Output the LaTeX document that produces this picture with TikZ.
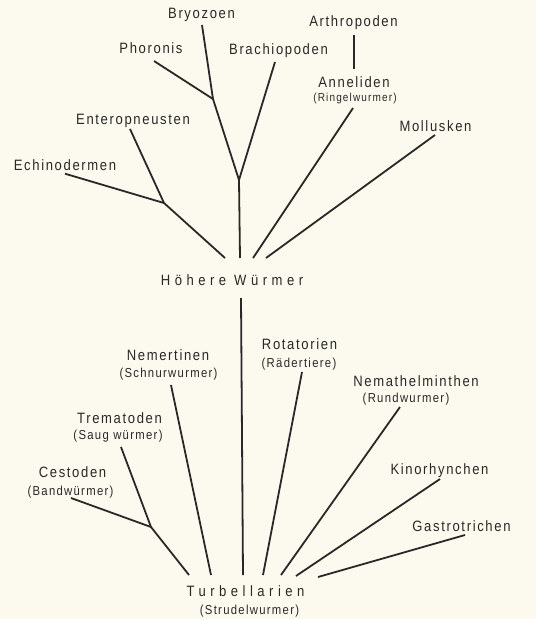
\documentclass[tikz,border=0pt]{standalone}
\usepackage{fontspec}
\setmainfont{Liberation Sans}
\newfontfamily\labf{Liberation Sans}[FakeStretch=0.87,LetterSpace=11]
\newfontfamily\subf{Liberation Sans}[FakeStretch=0.87,LetterSpace=10]
\newfontfamily\bigf{Liberation Sans}[FakeStretch=0.87,LetterSpace=30]
\definecolor{bg}{RGB}{252,250,238}
\definecolor{ink}{RGB}{40,40,40}
\tikzset{
 lab/.style={anchor=base, inner sep=0pt, text=ink, font=\labf\fontsize{15}{17}\selectfont},
 sub/.style={anchor=base, inner sep=0pt, text=ink, font=\subf\fontsize{13}{15}\selectfont},
 subsmall/.style={anchor=base, inner sep=0pt, text=ink, font=\subf\fontsize{11.5}{13}\selectfont},
 big/.style={anchor=base, inner sep=0pt, text=ink, font=\bigf\fontsize{15}{17}\selectfont},
 branch/.style={draw=ink, line width=1.8pt, line join=round},
}
\begin{document}
\begin{tikzpicture}[x=1pt,y=-1pt]
\fill[bg] (0,0) rectangle (536,619);
\useasboundingbox (0,0) rectangle (536,619);
% labels
\node[lab] (bryo) at (201.5,18) {Bryozoen};
\node[lab] (phor) at (151,53.5) {Phoronis};
\node[lab] (brach) at (278.5,54) {Brachiopoden};
\node[lab] (arth) at (353.5,26) {Arthropoden};
\node[lab] (anne) at (354,87) {Anneliden};
\node[subsmall] (ringel) at (355,101) {(Ringelwurmer)};
\node[lab] (entero) at (133,124) {Enteropneusten};
\node[lab] (echino) at (65,170.7) {Echinodermen};
\node[lab] (moll) at (435.5,131) {Mollusken};
\node[big] (hw) at (232,285.7) {Höhere Würmer};
\node[lab] (nem) at (168,360.7) {Nemertinen};
\node[sub] (schnur) at (168.5,377.7) {(Schnurwurmer)};
\node[lab] (rot) at (299.5,349.3) {Rotatorien};
\node[sub] (raeder) at (299,367.3) {(Rädertiere)};
\node[lab] (nemat) at (416,386) {Nemathelminthen};
\node[sub] (rund) at (406,402.7) {(Rundwurmer)};
\node[lab] (trem) at (119.5,423.3) {Trematoden};
\node[sub] (saug) at (118,439) {(Saug würmer)};
\node[lab] (cest) at (72.5,477.3) {Cestoden};
\node[sub] (band) at (70.5,495) {(Bandwürmer)};
\node[lab] (kino) at (439.5,474) {Kinorhynchen};
\node[lab] (gast) at (461.5,531.7) {Gastrotrichen};
\node[big] (turb) at (245.5,596.3) {Turbellarien};
\node[sub] (strudel) at (249.5,614) {(Strudelwurmer)};
% junctions
\coordinate (jA) at (213,99);
\coordinate (jB) at (239,180);
\coordinate (jC) at (164,203);
\coordinate (jD) at (151,527);
% upper tree
\draw[branch] ([shift={(0.5,7)}]bryo.base) -- (jA) -- (jB) -- ([shift={(8,-27.7)}]hw.base);
\draw[branch] ([shift={(3,7.5)}]phor.base) -- (jA);
\draw[branch] ([shift={(-3.5,8)}]brach.base) -- (jB);
\draw[branch] ([shift={(0.5,9)}]arth.base) -- ([shift={(0,-18)}]anne.base);
\draw[branch] ([shift={(-2,7)}]ringel.base) -- ([shift={(21,-27.7)}]hw.base);
\draw[branch] ([shift={(-0.5,4)}]moll.base) -- ([shift={(34,-27.7)}]hw.base);
\draw[branch] ([shift={(-3,5)}]entero.base) -- (jC) -- ([shift={(-7,-27.7)}]hw.base);
\draw[branch] ([shift={(0,3)}]echino.base) -- (jC);
% trunk
\draw[branch] ([shift={(9,12.3)}]hw.base) -- ([shift={(-2.5,-21.3)}]turb.base);
% lower tree
\draw[branch] ([shift={(2.5,7.3)}]schnur.base) -- ([shift={(-34.5,-21.3)}]turb.base);
\draw[branch] ([shift={(3,4.7)}]raeder.base) -- ([shift={(17.5,-21.3)}]turb.base);
\draw[branch] ([shift={(-6,4.3)}]rund.base) -- ([shift={(35.5,-21.3)}]turb.base);
\draw[branch] ([shift={(3,8)}]saug.base) -- (jD) -- ([shift={(-56.5,-21.3)}]turb.base);
\draw[branch] ([shift={(0.5,3)}]band.base) -- (jD);
\draw[branch] ([shift={(0.5,5)}]kino.base) -- ([shift={(50.5,-20.3)}]turb.base);
\draw[branch] ([shift={(3.5,3.3)}]gast.base) -- ([shift={(72.5,-19.3)}]turb.base);
\end{tikzpicture}
\end{document}
